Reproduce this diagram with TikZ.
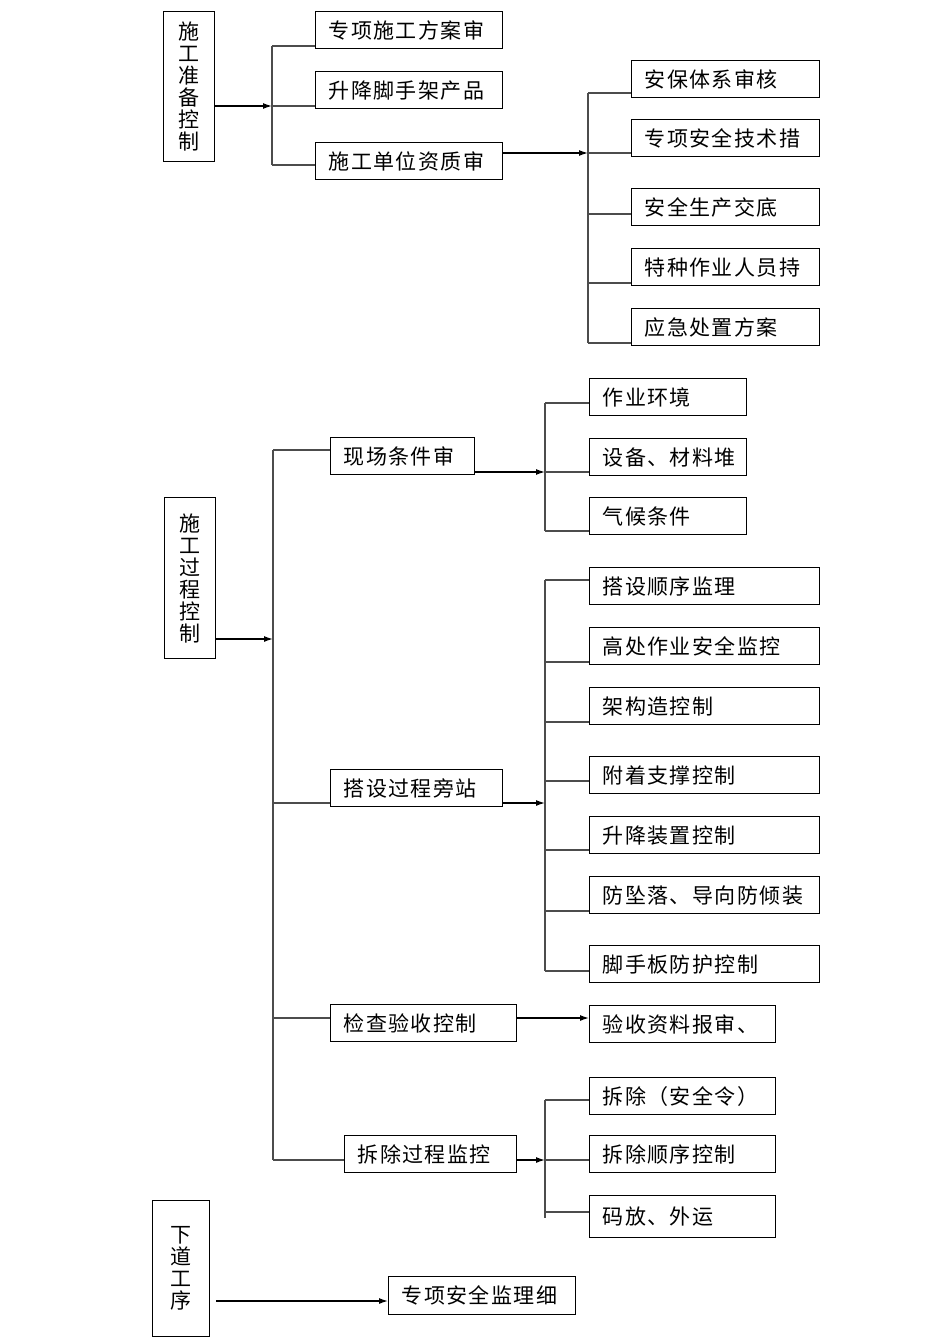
\documentclass[tikz,border=0pt]{standalone}
\usepackage{fontspec}
\newfontfamily\cjk[LetterSpace=7]{Noto Sans CJK SC}
\usetikzlibrary{arrows.meta}
\begin{document}
\begin{tikzpicture}[x=1pt,y=-1pt,
	every node/.style={draw,line width=1.2pt,anchor=north west,inner sep=0pt,
	font=\cjk\fontsize{21}{22}\selectfont},
	item/.style={minimum height=37pt,inner xsep=13pt,text width=#1-26pt,align=left},
	stack/.style={minimum width=#1,align=center},
	link/.style={draw=black!70,line width=1.2pt},
	feed/.style={line width=1.3pt,-{Latex[length=9pt,width=6pt]}}]
\useasboundingbox (0,0) rectangle (950,1344);
\node[stack=51pt,minimum height=150pt] (prep) at (163,11) {施\\工\\准\\备\\控\\制};
\node[item=187pt] (p1) at (315,11) {专项施工方案审};
\node[item=187pt] (p2) at (315,71) {升降脚手架产品};
\node[item=187pt] (p3) at (315,142) {施工单位资质审};
\node[item=188pt] (q1) at (631,60) {安保体系审核};
\node[item=188pt] (q2) at (631,119) {专项安全技术措};
\node[item=188pt] (q3) at (631,188) {安全生产交底};
\node[item=188pt] (q4) at (631,248) {特种作业人员持};
\node[item=188pt] (q5) at (631,308) {应急处置方案};
\node[stack=51pt,minimum height=161pt] (proc) at (164,497) {施\\工\\过\\程\\控\\制};
\node[item=144pt] (m1) at (330,437) {现场条件审};
\node[item=172pt] (m2) at (330,769) {搭设过程旁站};
\node[item=186pt] (m3) at (330,1004) {检查验收控制};
\node[item=172pt] (m4) at (344,1135) {拆除过程监控};
\node[item=157pt] (n1) at (589,378) {作业环境};
\node[item=157pt] (n2) at (589,438) {设备、材料堆};
\node[item=157pt] (n3) at (589,497) {气候条件};
\node[item=230pt] (s1) at (589,567) {搭设顺序监理};
\node[item=230pt] (s2) at (589,627) {高处作业安全监控};
\node[item=230pt] (s3) at (589,687) {架构造控制};
\node[item=230pt] (s4) at (589,756) {附着支撑控制};
\node[item=230pt] (s5) at (589,816) {升降装置控制};
\node[item=230pt] (s6) at (589,876) {防坠落、导向防倾装};
\node[item=230pt] (s7) at (589,945) {脚手板防护控制};
\node[item=186pt] (r1) at (589,1005) {验收资料报审、};
\node[item=186pt] (t1) at (589,1077) {拆除（安全令）};
\node[item=186pt] (t2) at (589,1135) {拆除顺序控制};
\node[item=186pt,minimum height=42pt] (t3) at (589,1195) {码放、外运};
\node[stack=57pt,minimum height=136pt] (next) at (152,1200) {下\\道\\工\\序};
\node[item=187pt,minimum height=38pt] (u1) at (388,1276) {专项安全监理细};
\coordinate (a1) at (272,46); \coordinate (a2) at (272,106); \coordinate (a3) at (272,165);
\draw[link] (a1) -- (a3);
\draw[feed] (prep.east |- a2) -- (a2);
\foreach \i in {1,2,3} \draw[link] (a\i) -- (a\i -| p\i.west);
\foreach \i/\y in {1/93,2/153,3/214,4/283,5/343} \coordinate (b\i) at (588,\y);
\draw[link] (b1) -- (b5);
\draw[feed] (p3.east |- b2) -- (b2);
\foreach \i in {1,...,5} \draw[link] (b\i) -- (b\i -| q\i.west);
\foreach \i/\y in {0/639,1/450,2/803,3/1018,4/1160} \coordinate (c\i) at (273,\y);
\draw[link] (c1) -- (c4);
\draw[feed] (proc.east |- c0) -- (c0);
\foreach \i in {1,...,4} \draw[link] (c\i) -- (c\i -| m\i.west);
\foreach \i/\y in {1/403,2/472,3/531} \coordinate (d\i) at (545,\y);
\draw[link] (d1) -- (d3);
\draw[feed] (m1.east |- d2) -- (d2);
\foreach \i in {1,2,3} \draw[link] (d\i) -- (d\i -| n\i.west);
\foreach \i/\y in {0/803,1/580,2/662,3/722,4/781,5/850,6/911,7/971} \coordinate (e\i) at (545,\y);
\draw[link] (e1) -- (e7);
\draw[feed] (m2.east |- e0) -- (e0);
\foreach \i in {1,...,7} \draw[link] (e\i) -- (e\i -| s\i.west);
\draw[feed] (m3.east |- c3) -- (r1.west |- c3);
\foreach \i/\y in {1/1100,2/1160,3/1212} \coordinate (f\i) at (545,\y);
\draw[link] (f1) -- ([yshift=-6pt]f3);
\draw[feed] (m4.east |- f2) -- (f2);
\foreach \i in {1,2,3} \draw[link] (f\i) -- (f\i -| t\i.west);
\coordinate (g) at (216,1301);
\draw[feed] (g) -- (g -| u1.west);
\end{tikzpicture}
\end{document}
